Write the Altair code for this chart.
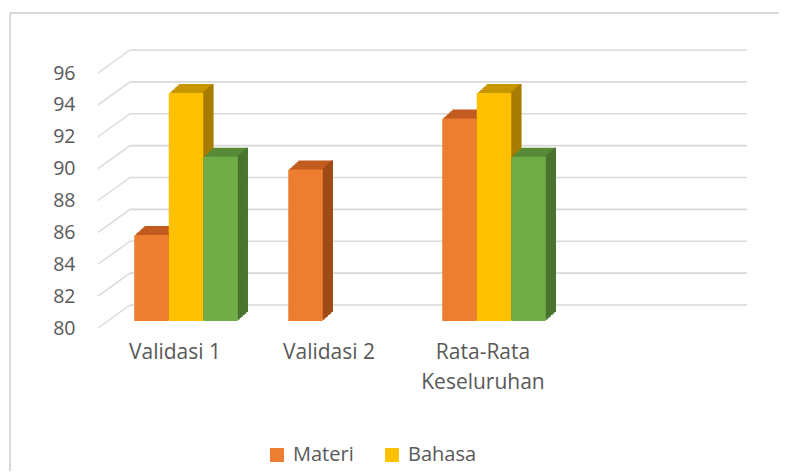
import altair as alt
import pandas as pd

# ---- data ----
categories = ["Validasi 1", "Validasi 2", "Rata-Rata Keseluruhan", " "]
series_names = ["Materi", "Bahasa", "Media"]
materi = [85.4, 89.5, 92.7]
bahasa = [94.3, None, 94.3]
media = [90.3, None, 90.3]
y_ticks = [80, 82, 84, 86, 88, 90, 92, 94, 96]
legend_entries = ["Materi", "Bahasa"]

front_colors = ["#ED7D31", "#FFC000", "#70AD47"]
top_colors = ["#C25B1F", "#C89600", "#568A37"]
side_colors = ["#9E4B18", "#A67C00", "#4A7330"]

rows = []
for name, vals in zip(series_names, [materi, bahasa, media]):
    for cat, v in zip(categories, vals):
        if v is not None:
            rows.append({"cat": cat, "series": name, "value": v})
df = pd.DataFrame(rows)
grid_df = pd.DataFrame({"v": y_ticks})

FONT = "Open Sans"
TXT = "#595959"
GRID = "#D9D9D9"

W, H = 616, 255
BAR_W = 34.5
DX, DY = 10, -9
STEPS = 6

yscale = alt.Scale(domain=[80, 96], zero=False, nice=False)
xscale = alt.Scale(domain=categories, paddingInner=0.328, paddingOuter=0.164)
cscale = alt.Scale(domain=series_names, range=front_colors)

# back wall gridlines and the floor-to-wall diagonals
back_grid = alt.Chart(grid_df).mark_rule(color=GRID, strokeWidth=1.6, yOffset=-16, y2Offset=-16).encode(
    y=alt.Y("v:Q", scale=yscale, axis=alt.Axis(values=y_ticks, title=None)),
    x=alt.value(21), x2=alt.value(638),
)
diag = alt.Chart(grid_df).mark_rule(color=GRID, strokeWidth=1.4, yOffset=7, y2Offset=-16).encode(
    y=alt.Y("v:Q", scale=yscale, axis=alt.Axis(values=y_ticks, title=None)),
    y2="v:Q",
    x=alt.value(-11), x2=alt.value(21),
)

# outer chart frame (top and left edges visible in the reference)
frame_top = alt.Chart(grid_df).mark_rule(color=GRID, strokeWidth=2).encode(
    x=alt.value(-99), x2=alt.value(670), y=alt.value(-53)
)
frame_left = alt.Chart(grid_df).mark_rule(color=GRID, strokeWidth=2).encode(
    x=alt.value(-99), y=alt.value(-53), y2=alt.value(405)
)

xenc = alt.X("cat:N", scale=xscale, axis=alt.Axis(title=None))
yenc = alt.Y("value:Q", scale=yscale, axis=alt.Axis(values=y_ticks, title=None))

shadow_layers = []
front_layers = []
for i, name in enumerate(series_names):
    off = (i - 1) * BAR_W
    base = alt.Chart(df).transform_filter(alt.datum.series == name)
    # top face: staircase of shifted copies
    for k in range(1, STEPS + 1):
        fx, fy = DX * k / STEPS, DY * k / STEPS
        shadow_layers.append(
            base.mark_bar(width=BAR_W, color=top_colors[i], xOffset=off + fx,
                          yOffset=fy, y2Offset=fy).encode(x=xenc, y=yenc, y2=alt.datum(80))
        )
    # side face: thin strips, each raised a little more
    sw = DX / STEPS
    for k in range(1, STEPS + 1):
        fy = DY * k / STEPS
        cx = off + BAR_W / 2 + sw * (k - 0.5)
        shadow_layers.append(
            base.mark_bar(width=sw + 0.4, color=side_colors[i], xOffset=cx,
                          yOffset=fy, y2Offset=fy).encode(x=xenc, y=yenc, y2=alt.datum(80))
        )
    front_layers.append(
        base.mark_bar(width=BAR_W, xOffset=off).encode(
            x=xenc, y=yenc, y2=alt.datum(80),
            color=alt.Color("series:N", scale=cscale, title=None,
                            legend=alt.Legend(values=legend_entries)),
        )
    )

chart = alt.layer(
    frame_top, frame_left, back_grid, diag, *shadow_layers, *front_layers
).properties(
    width=W, height=H,
    padding={"left": 101, "top": 58, "right": 54, "bottom": 152},
    autosize=alt.AutoSizeParams(type="none"),
    background="white",
).configure_view(stroke=None).configure_axisY(
    domain=False, ticks=False, grid=False, labelPadding=34, labelOffset=7,
    labelFont=FONT, labelFontSize=19.5, labelColor=TXT,
).configure_axisX(
    domain=False, ticks=False, grid=False, labelPadding=20, labelOffset=-11, labelAngle=0,
    labelFont=FONT, labelFontSize=21, labelColor=TXT, labelLineHeight=30,
    labelExpr="datum.label == 'Rata-Rata Keseluruhan' ? ['Rata-Rata', 'Keseluruhan'] : datum.label",
).configure_legend(
    orient="none", legendX=158, legendY=379, direction="horizontal",
    symbolType="square", symbolSize=196, symbolStrokeWidth=0, labelOffset=6,
    columnPadding=28, padding=0, labelFont=FONT, labelFontSize=20, labelColor=TXT,
)

chart.save("out.html", embed_options={"renderer": "svg", "actions": False})
